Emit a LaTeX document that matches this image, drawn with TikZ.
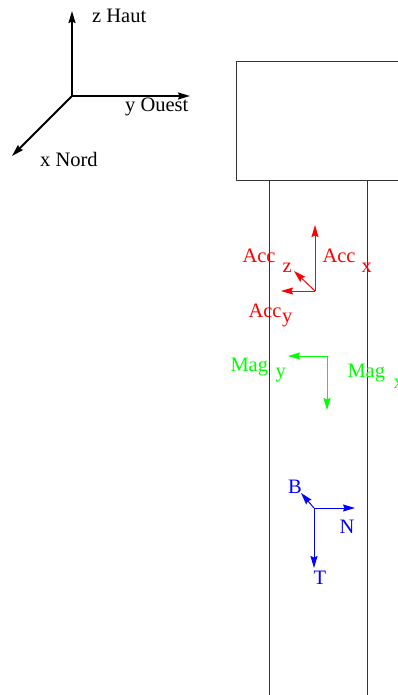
\documentclass[tikz,border=0pt]{standalone}
\usepackage{fontspec}
\setmainfont{Liberation Serif}
\usetikzlibrary{arrows.meta}
\begin{document}
\begin{tikzpicture}[x=1pt,y=-1pt,line join=round,font=\fontsize{20.5}{22}\selectfont,
	fleche/.style={-{Stealth[length=12pt,width=7pt,inset=1.5pt]}},
	etiq/.style={anchor=base west,inner sep=0pt}]
	\useasboundingbox (0,0) rectangle (398,695);
	\clip (0,0) rectangle (398,695);
	%%%Repere
	\begin{scope}[line width=1.8pt]
		\coordinate (O) at (72,96);
		\coordinate (Z) at (72,11);
		\coordinate (Y) at (190,96);
		\coordinate (X) at (12,156);
		\foreach \t in {X,Y,Z}
		\draw[fleche] (O)--(\t);
	\end{scope}
	\node[etiq] (zHaut) at (92,23) {z Haut};
	\node[etiq] (yOuest) at (125,112) {y Ouest};
	\node[etiq] (xNord) at (40,166) {x Nord};
	%%%Boitier et tige
	\begin{scope}[line width=1pt,black!80]
		\draw (420,62)--(236,62)--(236,180)--(420,180);
		\draw (269,180)--(269,695) (367,180)--(367,695);
	\end{scope}
	%%%Accelerometre
	\begin{scope}[red,line width=1pt]
		\coordinate (A) at (315,291);
		\coordinate (Ax) at (315,225);
		\coordinate (Ay) at (281,291);
		\coordinate (Az) at (294,271);
		\foreach \t in {Ax,Ay,Az}
		\draw[fleche] (A)--(\t);
		\node[etiq] (accz) at (242,262) {Acc};
		\node[etiq] (accz') at (282,272) {z};
		\node[etiq] (accx) at (322,262) {Acc};
		\node[etiq] (accx') at (361,272) {x};
		\node[etiq] (accy) at (248,317) {Acc};
		\node[etiq] (accy') at (281.5,322) {y};
	\end{scope}
	%%%Magnetometre
	\begin{scope}[green,line width=1pt]
		\coordinate (M) at (327,356);
		\coordinate (My) at (288,356);
		\coordinate (Mx) at (327,410);
		\foreach \t in {My,Mx}
		\draw[fleche] (M)--(\t);
		\node[etiq] (magy) at (230,371) {Mag};
		\node[etiq] (magy') at (275,377) {y};
		\node[etiq] (magx) at (347,377) {Mag};
		\node[etiq] (magx') at (393,388) {x};
	\end{scope}
	%%%Repere TNB
	\begin{scope}[blue,line width=1pt]
		\coordinate (P) at (314,508);
		\coordinate (N) at (355,508);
		\coordinate (T) at (314,568);
		\coordinate (B) at (301,493);
		\foreach \t in {N,T,B}
		\draw[fleche] (P)--(\t);
		\node (lB) at (295,487) {B};
		\node (lN) at (347,527) {N};
		\node (lT) at (320,578) {T};
	\end{scope}
\end{tikzpicture}
\end{document}
